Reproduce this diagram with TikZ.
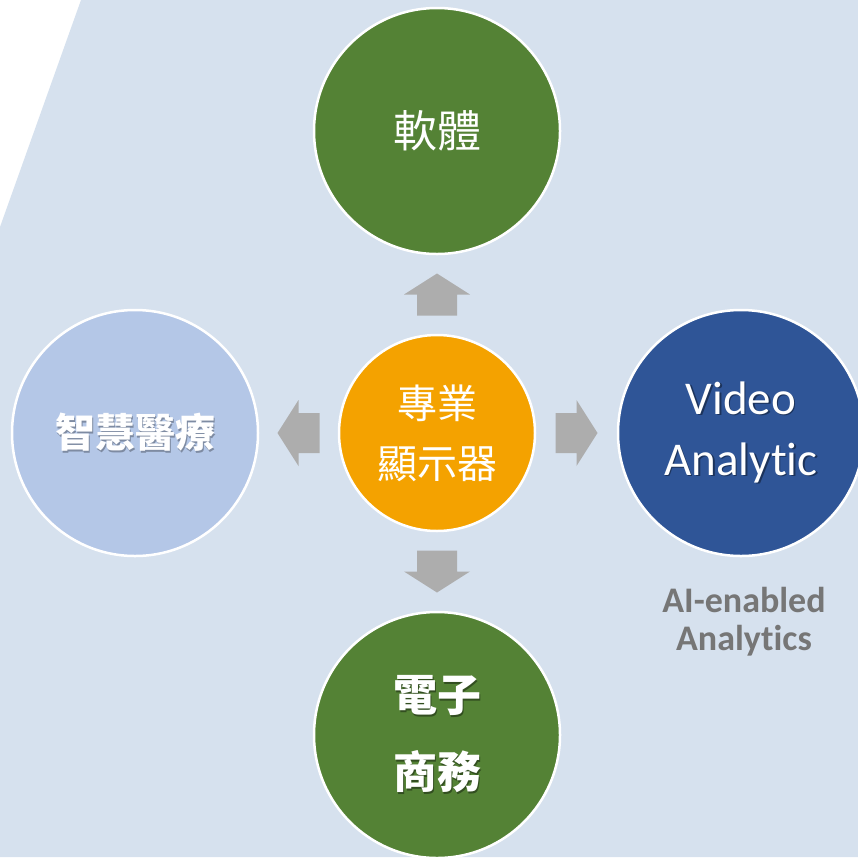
\documentclass[tikz,border=0pt]{standalone}
\usepackage{fontspec}
\setmainfont[RawFeature=-liga]{Carlito}
\newfontfamily\cjk{Noto Sans CJK TC}
\usetikzlibrary{calc}

\definecolor{paneblue}{HTML}{D6E1EE}
\definecolor{leafgreen}{HTML}{548235}
\definecolor{palesky}{HTML}{B4C7E7}
\definecolor{deepblue}{HTML}{2F5597}
\definecolor{amber}{HTML}{F4A200}
\definecolor{arrowgray}{HTML}{ADADAD}
\definecolor{notegray}{HTML}{767676}

% white text with a small dark offset copy behind it
\newcommand{\shadowed}[2]{\makebox[0pt][l]{\kern1.5pt\raisebox{-1.5pt}{\color{#1}#2}}#2}

\tikzset{
  bubble/.style={circle, draw=white, line width=2.5pt, minimum size=246pt, inner sep=0pt, text=white, align=center},
  hub/.style={bubble, minimum size=196pt, fill=amber},
  pics/fatarrow/.style={code={
    \fill[arrowgray] (-21,-20) -- (0,-20) -- (0,-33) -- (21,0) -- (0,33) -- (0,20) -- (-21,20) -- cycle;
  }}
}

\begin{document}
\begin{tikzpicture}[x=1pt, y=-1pt]
\useasboundingbox (0,0) rectangle (858,857);
\fill[white] (0,0) rectangle (858,857);
\fill[paneblue] (81,0) -- (858,0) -- (858,857) -- (0,857) -- (0,227) -- cycle;

\node[hub, font={\cjk\fontsize{40}{60}\selectfont}] (disp) at (437,433) {專業\\顯示器};
\node[bubble, fill=leafgreen, font={\cjk\fontsize{44}{60}\selectfont}] (soft) at (437,131) {軟體};
\node[bubble, fill=palesky, font={\cjk\bfseries\fontsize{40}{60}\selectfont}] (care) at (135,433) {\shadowed{black!30!palesky}{智慧醫療}};
\node[bubble, fill=deepblue, font={\fontsize{47}{61}\selectfont}] (video) at (741,433)
  {\shadowed{black!40!deepblue}{Video}\\\shadowed{black!40!deepblue}{Analytic}};
\node[bubble, fill=leafgreen, font={\cjk\bfseries\fontsize{44}{77}\selectfont}] (shop) at (437,735)
  {\shadowed{black!40!leafgreen}{電子}\\\shadowed{black!40!leafgreen}{商務}};

\node[text=notegray, align=center, font={\bfseries\fontsize{36}{38}\selectfont}] (aitag) at (744,622) {AI-enabled\\Analytics};

\coordinate (upgap) at ($(disp.north)!0.5!(soft.south)$);
\coordinate (leftgap) at ($(disp.west)!0.5!(care.east)$);
\coordinate (rightgap) at ($(disp.east)!0.5!(video.west)$);
\coordinate (downgap) at ($(disp.south)!0.5!(shop.north)$);
\pic[rotate=90] at (upgap) {fatarrow};
\pic[rotate=180] at (leftgap) {fatarrow};
\pic at (rightgap) {fatarrow};
\pic[rotate=-90] at (downgap) {fatarrow};
\end{tikzpicture}
\end{document}
